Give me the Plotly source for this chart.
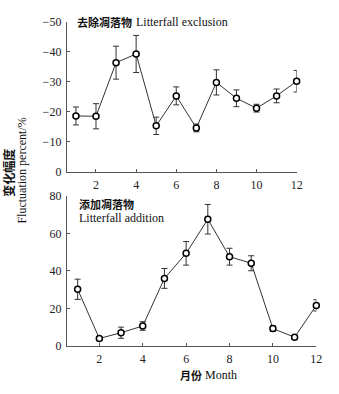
import plotly.graph_objects as go

months = [1, 2, 3, 4, 5, 6, 7, 8, 9, 10, 11, 12]
excl_vals = [-18.6, -18.5, -36.4, -39.3, -15.3, -25.3, -14.6, -29.8, -24.5, -21.2, -25.3, -30.2]
excl_err = [3.0, 4.2, 5.5, 6.2, 2.9, 3.0, 1.3, 4.2, 2.8, 1.3, 2.3, 3.6]
add_vals = [30.2, 3.9, 7.0, 10.6, 36.0, 49.4, 67.6, 47.6, 44.1, 9.2, 4.6, 21.6]
add_err = [5.4, 0.9, 3.0, 2.3, 5.3, 6.3, 7.9, 4.5, 4.0, 1.5, 0.8, 3.0]
x_ticks = [2, 4, 6, 8, 10, 12]
excl_yticks = [0, -10, -20, -30, -40, -50]
add_yticks = [0, 20, 40, 60, 80]

W, H = 339, 394
SERIF = "Liberation Serif"
CJK = "Noto Sans CJK SC"
AX = "#555555"

def px(x):
    return x / W

def py(y):
    return 1 - y / H

fig = go.Figure()

common = dict(
    mode="lines+markers",
    line=dict(color="#333333", width=1),
    marker=dict(symbol="circle", size=6, color="white", line=dict(color="black", width=1.5)),
    cliponaxis=False,
    showlegend=False,
)

fig.add_trace(go.Scatter(
    x=months, y=excl_vals, xaxis="x", yaxis="y",
    error_y=dict(type="data", array=excl_err, color="#333333", thickness=1, width=3),
    **common))
fig.add_trace(go.Scatter(
    x=months, y=add_vals, xaxis="x2", yaxis="y2",
    error_y=dict(type="data", array=add_err, color="#333333", thickness=1, width=3),
    **common))

axis_common = dict(
    showline=True, linecolor=AX, linewidth=1, showgrid=False, zeroline=False,
    ticks="inside", ticklen=3, tickcolor=AX, tickwidth=1,
    tickfont=dict(family=SERIF, size=12, color="#222222"),
)

fig.update_layout(
    width=W, height=H,
    margin=dict(l=0, r=0, t=0, b=0),
    paper_bgcolor="white", plot_bgcolor="white",
    font=dict(family=SERIF, size=12, color="#222222"),
    xaxis=dict(domain=[px(68), px(302)], range=[0.545, 12.0], tickvals=x_ticks,
               anchor="y", ticklabelstandoff=2, **axis_common),
    yaxis=dict(domain=[py(170.7), py(15.5)], range=[0, -50], tickvals=excl_yticks,
               anchor="x", ticklabelstandoff=2, **axis_common),
    xaxis2=dict(domain=[px(68), px(322)], range=[0.5, 12.0], tickvals=x_ticks,
                anchor="y2", ticklabelstandoff=2, **axis_common),
    yaxis2=dict(domain=[py(351.3), py(196)], range=[0, 80], tickvals=add_yticks,
                anchor="x2", ticklabelstandoff=2, **axis_common),
)

def ann(text, x, y, size=12, family=SERIF, angle=0, xanchor="left", color="#111111"):
    fig.add_annotation(text=text, x=px(x), y=py(y), xref="paper", yref="paper",
                       showarrow=False, textangle=angle, xanchor=xanchor, yanchor="middle",
                       font=dict(family=family, size=size, color=color))

ann("<b>去除凋落物</b>", 76, 16, size=11, family=CJK)
ann("Litterfall exclusion", 136, 16, size=12)
ann("<b>添加凋落物</b>", 78, 204, size=11, family=CJK)
ann("Litterfall addition", 78, 219, size=12)
ann("<b>变化幅度</b>", 9, 172, size=12, family=CJK, angle=-90, xanchor="center")
ann("Fluctuation percent/%", 22, 170, size=12, angle=-90, xanchor="center")
ann("<b>月份</b>", 181, 382, size=11, family=CJK)
ann("Month", 207, 382, size=12)

fig.write_html("out.html", config={"displayModeBar": False},
               post_script="document.body.style.margin='0';")
